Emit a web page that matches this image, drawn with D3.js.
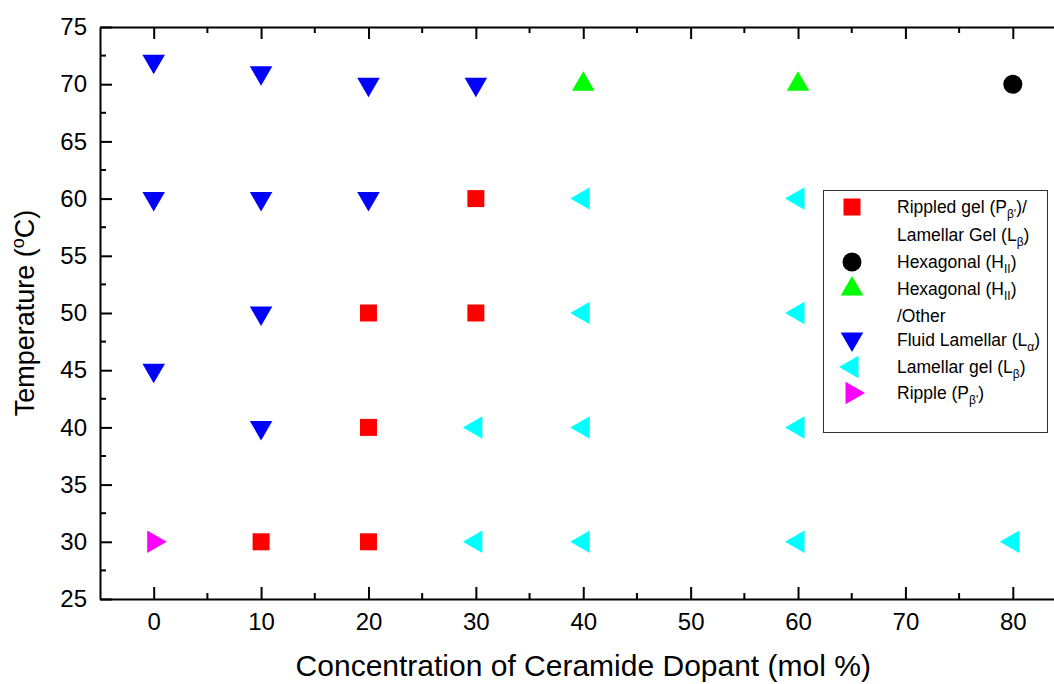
<!DOCTYPE html>
<html>
<head>
<meta charset="utf-8">
<script src="https://cdn.jsdelivr.net/npm/d3@7"></script>
<style>
  html, body { margin: 0; padding: 0; background: #fff; }
  svg { display: block; font-family: "Liberation Sans", Arial, sans-serif; }
</style>
</head>
<body>
<svg id="chart" width="1054" height="684"></svg>
<script>
// Phase observations: [ceramide mol %, temperature °C]
const rippledGel     = [[30, 60], [20, 50], [30, 50], [20, 40], [10, 30], [20, 30]];
const hexagonal      = [[80, 70]];
const hexagonalOther = [[40, 70], [60, 70]];
const fluidLamellar  = [[0, 72], [10, 71], [20, 70], [30, 70], [0, 60], [10, 60], [20, 60], [10, 50], [0, 45], [10, 40]];
const lamellarGel    = [[40, 60], [60, 60], [40, 50], [60, 50], [30, 40], [40, 40], [60, 40], [30, 30], [40, 30], [60, 30], [80, 30]];
const ripple         = [[0, 30]];

const xTicks = [0, 10, 20, 30, 40, 50, 60, 70, 80];
const yTicks = [25, 30, 35, 40, 45, 50, 55, 60, 65, 70, 75];
const xMinor = [5, 15, 25, 35, 45, 55, 65, 75];
const yMinor = [27.5, 32.5, 37.5, 42.5, 47.5, 52.5, 57.5, 62.5, 67.5, 72.5];

const svg = d3.select("#chart");
const plotLeft = 100, plotTop = 27, plotBottom = 599, plotRight = 1066.5;

const x = d3.scaleLinear().domain([-5, 85]).range([plotLeft, plotRight]);
const y = d3.scaleLinear().domain([25, 75]).range([plotBottom, plotTop]);

// Marker shapes
const tri = d3.symbol().type(d3.symbolTriangle).size(220);
const series = [
  { data: rippledGel,     color: "#ff0000", path: d3.symbol().type(d3.symbolSquare).size(289)(), rot: 0 },
  { data: hexagonal,      color: "#000000", path: d3.symbol().type(d3.symbolCircle).size(285)(), rot: 0 },
  { data: hexagonalOther, color: "#00ff00", path: tri(), rot: 0 },
  { data: fluidLamellar,  color: "#0000ff", path: tri(), rot: 180 },
  { data: lamellarGel,    color: "#00ffff", path: tri(), rot: -90 },
  { data: ripple,         color: "#ff00ff", path: tri(), rot: 90 }
];

// Axes with inward ticks
function styleAxis(g) {
  g.selectAll("path.domain").attr("stroke", "#000").attr("stroke-width", 2);
  g.selectAll(".tick line").attr("stroke", "#000").attr("stroke-width", 2);
  g.selectAll("text").attr("fill", "#000").attr("font-size", "24px")
    .attr("font-family", "Liberation Sans, Arial, sans-serif");
}

const gx = svg.append("g").attr("transform", `translate(0,${plotBottom})`)
  .call(d3.axisBottom(x).tickValues(xTicks).tickSizeInner(-12).tickSizeOuter(0).tickPadding(14));
styleAxis(gx);
gx.selectAll(".minor").data(xMinor).enter().append("line")
  .attr("x1", d => x(d)).attr("x2", d => x(d)).attr("y1", 0).attr("y2", -6)
  .attr("stroke", "#000").attr("stroke-width", 2);

const gxTop = svg.append("g").attr("transform", `translate(0,${plotTop})`)
  .call(d3.axisTop(x).tickValues(xTicks).tickSizeInner(-12).tickSizeOuter(0).tickFormat(""));
styleAxis(gxTop);
gxTop.selectAll(".minor").data(xMinor).enter().append("line")
  .attr("x1", d => x(d)).attr("x2", d => x(d)).attr("y1", 0).attr("y2", 6)
  .attr("stroke", "#000").attr("stroke-width", 2);

const gy = svg.append("g").attr("transform", `translate(${plotLeft},0)`)
  .call(d3.axisLeft(y).tickValues(yTicks).tickSizeInner(-12).tickSizeOuter(0).tickPadding(13));
styleAxis(gy);
gy.selectAll(".minor").data(yMinor).enter().append("line")
  .attr("y1", d => y(d)).attr("y2", d => y(d)).attr("x1", 0).attr("x2", 6)
  .attr("stroke", "#000").attr("stroke-width", 2);

// Data markers
series.forEach(s => {
  svg.append("g").selectAll("path").data(s.data).enter().append("path")
    .attr("d", s.path)
    .attr("fill", s.color)
    .attr("transform", d => `translate(${x(d[0])},${y(d[1])}) rotate(${s.rot})`);
});

// Axis titles
svg.append("text")
  .attr("x", (plotLeft + plotRight) / 2).attr("y", 676)
  .attr("text-anchor", "middle").attr("font-size", "30px").attr("fill", "#000")
  .text("Concentration of Ceramide Dopant (mol %)");

const yt = svg.append("text")
  .attr("transform", `translate(34,${(plotTop + plotBottom) / 2}) rotate(-90)`)
  .attr("text-anchor", "middle").attr("font-size", "27px").attr("fill", "#000");
yt.append("tspan").text("Temperature (");
yt.append("tspan").attr("font-size", "18px").attr("dy", "-10").text("o");
yt.append("tspan").attr("dy", "10").text("C)");

// Legend
const lg = svg.append("g");
lg.append("rect").attr("x", 823.5).attr("y", 190.5).attr("width", 224).attr("height", 242)
  .attr("fill", "#fff").attr("stroke", "#333").attr("stroke-width", 1);

const legendSymbols = [
  { s: series[0], y: 207 },
  { s: series[1], y: 262 },
  { s: series[2], y: 289 },
  { s: series[3], y: 339 },
  { s: series[4], y: 367 },
  { s: series[5], y: 393 }
];
legendSymbols.forEach(e => {
  lg.append("path").attr("d", e.s.path).attr("fill", e.s.color)
    .attr("transform", `translate(852,${e.y}) rotate(${e.s.rot})`);
});

// Legend text lines, as [text, isSubscript] runs
const legendLines = [
  { y: 213, parts: [["Rippled gel (P", 0], ["β'", 1], [")/", 0]] },
  { y: 241, parts: [["Lamellar Gel (L", 0], ["β", 1], [")", 0]] },
  { y: 268, parts: [["Hexagonal (H", 0], ["II", 1], [")", 0]] },
  { y: 295, parts: [["Hexagonal (H", 0], ["II", 1], [")", 0]] },
  { y: 322, parts: [["/Other", 0]] },
  { y: 346, parts: [["Fluid Lamellar (L", 0], ["α", 1], [")", 0]] },
  { y: 373, parts: [["Lamellar gel (L", 0], ["β", 1], [")", 0]] },
  { y: 399, parts: [["Ripple (P", 0], ["β'", 1], [")", 0]] }
];
legendLines.forEach(l => {
  const t = lg.append("text").attr("x", 897).attr("y", l.y)
    .attr("font-size", "17.5px").attr("fill", "#000");
  let shifted = false;
  l.parts.forEach(([txt, sub]) => {
    const sp = t.append("tspan").text(txt);
    if (sub) { sp.attr("font-size", "12px").attr("dy", 5); shifted = true; }
    else if (shifted) { sp.attr("dy", -5); shifted = false; }
  });
});
</script>
</body>
</html>
